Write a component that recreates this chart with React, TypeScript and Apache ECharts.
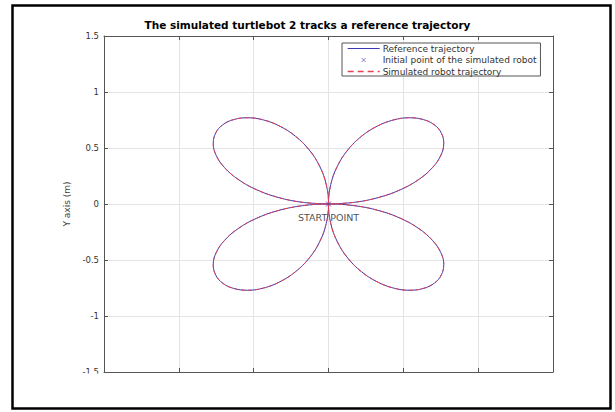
import React, { useEffect, useRef } from "react";
import * as echarts from "echarts";

const titleText = "The simulated turtlebot 2 tracks a reference trajectory";
const yAxisName = "Y axis (m)";
const seriesNames = [
  "Reference trajectory",
  "Initial point of the simulated robot",
  "Simulated robot trajectory",
];
const startLabel = "START POINT";

const leafNE = [
  [0, 0], [0.173, 0.015], [0.337, 0.059], [0.483, 0.129], [0.604, 0.22], [0.694, 0.324],
  [0.75, 0.433], [0.77, 0.539], [0.754, 0.633], [0.707, 0.707], [0.633, 0.754], [0.539, 0.77],
  [0.433, 0.75], [0.324, 0.694], [0.22, 0.604], [0.129, 0.483], [0.059, 0.337], [0.015, 0.173], [0, 0],
];
const leafSE = [
  [0.015, -0.173], [0.059, -0.337], [0.129, -0.483], [0.22, -0.604], [0.324, -0.694], [0.433, -0.75],
  [0.539, -0.77], [0.633, -0.754], [0.707, -0.707], [0.754, -0.633], [0.77, -0.539], [0.75, -0.433],
  [0.694, -0.324], [0.604, -0.22], [0.483, -0.129], [0.337, -0.059], [0.173, -0.015], [0, 0],
];
const leafSW = [
  [-0.173, -0.015], [-0.337, -0.059], [-0.483, -0.129], [-0.604, -0.22], [-0.694, -0.324], [-0.75, -0.433],
  [-0.77, -0.539], [-0.754, -0.633], [-0.707, -0.707], [-0.633, -0.754], [-0.539, -0.77], [-0.433, -0.75],
  [-0.324, -0.694], [-0.22, -0.604], [-0.129, -0.483], [-0.059, -0.337], [-0.015, -0.173], [0, 0],
];
const leafNW = [
  [-0.015, 0.173], [-0.059, 0.337], [-0.129, 0.483], [-0.22, 0.604], [-0.324, 0.694], [-0.433, 0.75],
  [-0.539, 0.77], [-0.633, 0.754], [-0.707, 0.707], [-0.754, 0.633], [-0.77, 0.539], [-0.75, 0.433],
  [-0.694, 0.324], [-0.604, 0.22], [-0.483, 0.129], [-0.337, 0.059], [-0.173, 0.015], [0, 0],
];
const startPoint = [0, 0];
const axisMin = -1.5;
const axisMax = 1.5;
const axisStep = 0.5;

const FONT = "DejaVu Sans";
const BLUE = "#3b3bb8";
const RED = "#e8414f";

export default function App() {
  const ref = useRef<HTMLDivElement>(null);
  useEffect(() => {
    document.body.style.margin = "0";
    if (!ref.current) return;
    const chart = echarts.init(ref.current, null, { renderer: "svg" });
    const trajectory = [...leafNE, ...leafSE, ...leafSW, ...leafNW];
    const axisLine = { show: true, onZero: false, lineStyle: { color: "#555", width: 1 } };
    const axisTick = { show: true, inside: true, length: 4, lineStyle: { color: "#555" } };
    const common = { type: "value", min: axisMin, max: axisMax, interval: axisStep };
    chart.setOption({
      animation: false,
      backgroundColor: "#fff",
      textStyle: { fontFamily: FONT },
      title: {
        text: titleText,
        left: "center",
        top: 14,
        textStyle: { fontSize: 10.5, fontWeight: "bold", color: "#000", fontFamily: FONT },
      },
      grid: { left: 104, right: 62, top: 36, bottom: 40, containLabel: false },
      legend: {
        orient: "vertical",
        left: 342,
        top: 43,
        itemWidth: 32,
        itemHeight: 9,
        itemGap: 0,
        padding: [1, 4, 0, 5],
        borderColor: "#555",
        borderWidth: 1,
        backgroundColor: "#fff",
        textStyle: { fontSize: 9, lineHeight: 9, color: "#333", fontFamily: FONT, padding: [0, 0, 0, -2] },
        data: [
          {
            name: seriesNames[0],
            itemStyle: { opacity: 0 },
            lineStyle: { width: 1, color: BLUE },
          },
          {
            name: seriesNames[1],
            icon: "path://M0,0M18,18M5,5L13,13M13,5L5,13",
            itemStyle: { borderWidth: 0.8, borderColor: BLUE, color: "none" },
          },
          {
            name: seriesNames[2],
            itemStyle: { opacity: 0 },
            lineStyle: { width: 1.3, color: RED, type: [6, 4], opacity: 1 },
          },
        ],
      },
      xAxis: [
        {
          ...common,
          position: "bottom",
          axisLine,
          axisTick,
          axisLabel: { show: false },
          splitLine: { show: true, lineStyle: { color: "#e4e4e4", width: 1 } },
        },
        {
          ...common,
          position: "top",
          axisLine,
          axisTick,
          axisLabel: { show: false },
          splitLine: { show: false },
        },
      ],
      yAxis: [
        {
          ...common,
          position: "left",
          name: yAxisName,
          nameLocation: "middle",
          nameGap: 25,
          nameTextStyle: { fontSize: 9, color: "#444", fontFamily: FONT },
          axisLine,
          axisTick,
          axisLabel: { fontSize: 8.5, color: "#333", margin: 5, fontFamily: FONT },
          splitLine: { show: true, lineStyle: { color: "#e4e4e4", width: 1 } },
        },
        {
          ...common,
          position: "right",
          axisLine,
          axisTick,
          axisLabel: { show: false },
          splitLine: { show: false },
        },
      ],
      series: [
        {
          name: seriesNames[0],
          type: "line",
          data: trajectory,
          smooth: 0.4,
          symbol: "none",
          lineStyle: { color: BLUE, width: 1 },
          itemStyle: { color: BLUE },
          z: 2,
        },
        {
          name: seriesNames[1],
          type: "scatter",
          data: [startPoint],
          symbol: "path://M0,0L10,10M10,0L0,10",
          symbolSize: 5,
          itemStyle: { color: "none", borderColor: BLUE, borderWidth: 1 },
          label: {
            show: true,
            position: "bottom",
            distance: 3,
            formatter: startLabel,
            fontSize: 9.5,
            color: "#222",
            fontFamily: FONT,
          },
          z: 4,
        },
        {
          name: seriesNames[2],
          type: "line",
          data: trajectory,
          smooth: 0.4,
          symbol: "none",
          lineStyle: { color: RED, width: 1, type: [4, 3] },
          itemStyle: { color: RED },
          z: 3,
        },
      ],
      graphic: [
        {
          type: "rect",
          shape: { x: 20, y: 373.5, width: 580, height: 30 },
          style: { fill: "#fff" },
          z: 50,
        },
        {
          type: "rect",
          shape: { x: 12.5, y: 5.5, width: 598, height: 403 },
          style: { fill: "none", stroke: "#000", lineWidth: 2.5 },
          z: 60,
        },
      ],
    });
    return () => chart.dispose();
  }, []);
  return <div ref={ref} style={{ width: 615, height: 412 }} />;
}
